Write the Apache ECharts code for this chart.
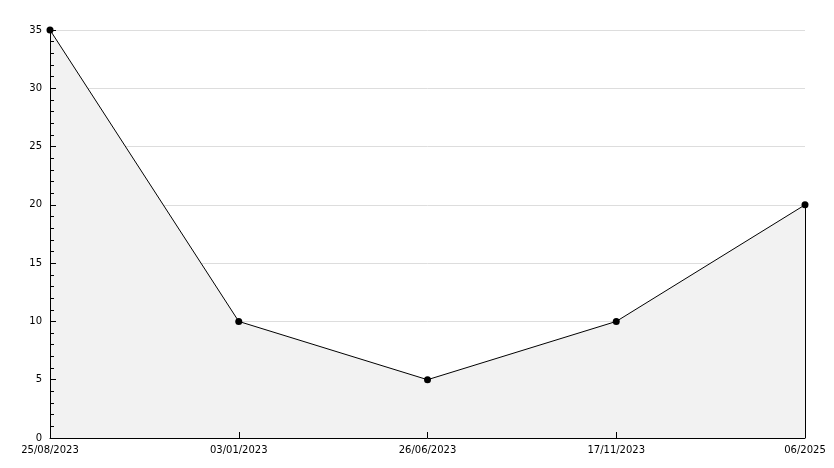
<!DOCTYPE html>
<html><head><meta charset="utf-8">
<script src="https://cdn.jsdelivr.net/npm/echarts@6/dist/echarts.min.js"></script>
<style>html,body{margin:0;padding:0;background:#fff}#c{width:834px;height:468px}</style>
</head><body><div id="c"></div>
<script>
const categories = ["25/08/2023", "03/01/2023", "26/06/2023", "17/11/2023", "06/2025"];
const values = [35, 10, 5, 10, 20];
const yTicks = [0, 5, 10, 15, 20, 25, 30, 35];

const chart = echarts.init(document.getElementById('c'), null, {renderer: 'canvas'});
const lastIdx = categories.length - 1;
const yMin = yTicks[0], yMax = yTicks[yTicks.length - 1];
const font = {color: '#000', fontFamily: 'DejaVu Sans', fontSize: 10};
chart.setOption({
  animation: false,
  backgroundColor: '#ffffff',
  grid: {left: 50, right: 29, top: 30, bottom: 30},
  xAxis: [{
    type: 'category', data: categories, boundaryGap: false, z: 0,
    axisLine: {show: false}, axisTick: {show: false}, axisLabel: {show: false}, splitLine: {show: false}
  }, {
    type: 'category', data: categories, boundaryGap: false, position: 'bottom', z: 10,
    axisLine: {show: true, lineStyle: {color: '#000', width: 1}},
    axisTick: {show: true, inside: true, length: 6, alignWithLabel: true, lineStyle: {color: '#000'}},
    axisLabel: Object.assign({margin: 7}, font),
    splitLine: {show: false}
  }],
  yAxis: [{
    type: 'value', min: yMin, max: yMax, interval: 5, z: 0,
    axisLine: {show: false}, axisTick: {show: false}, axisLabel: {show: false},
    splitLine: {show: true, lineStyle: {color: '#dddddd', width: 1}}
  }, {
    type: 'value', min: yMin, max: yMax, interval: 5, position: 'left', z: 10,
    axisLine: {show: true, lineStyle: {color: '#000', width: 1}},
    axisTick: {show: true, inside: true, length: 6, lineStyle: {color: '#000'}},
    minorTick: {show: true, splitNumber: 5, length: 4, lineStyle: {color: '#000'}},
    axisLabel: Object.assign({margin: 8}, font),
    splitLine: {show: false}
  }],
  series: [{
    type: 'line', data: values, xAxisIndex: 0, yAxisIndex: 0,
    symbol: 'circle', symbolSize: 7,
    itemStyle: {color: '#000'},
    lineStyle: {color: '#000', width: 1},
    areaStyle: {color: '#f2f2f2', opacity: 1},
    markLine: {
      silent: true, symbol: 'none', label: {show: false},
      lineStyle: {color: '#000', width: 1, type: 'solid'},
      data: [[{coord: [lastIdx, 0]}, {coord: [lastIdx, values[lastIdx]]}]]
    }
  }]
});
</script></body></html>
